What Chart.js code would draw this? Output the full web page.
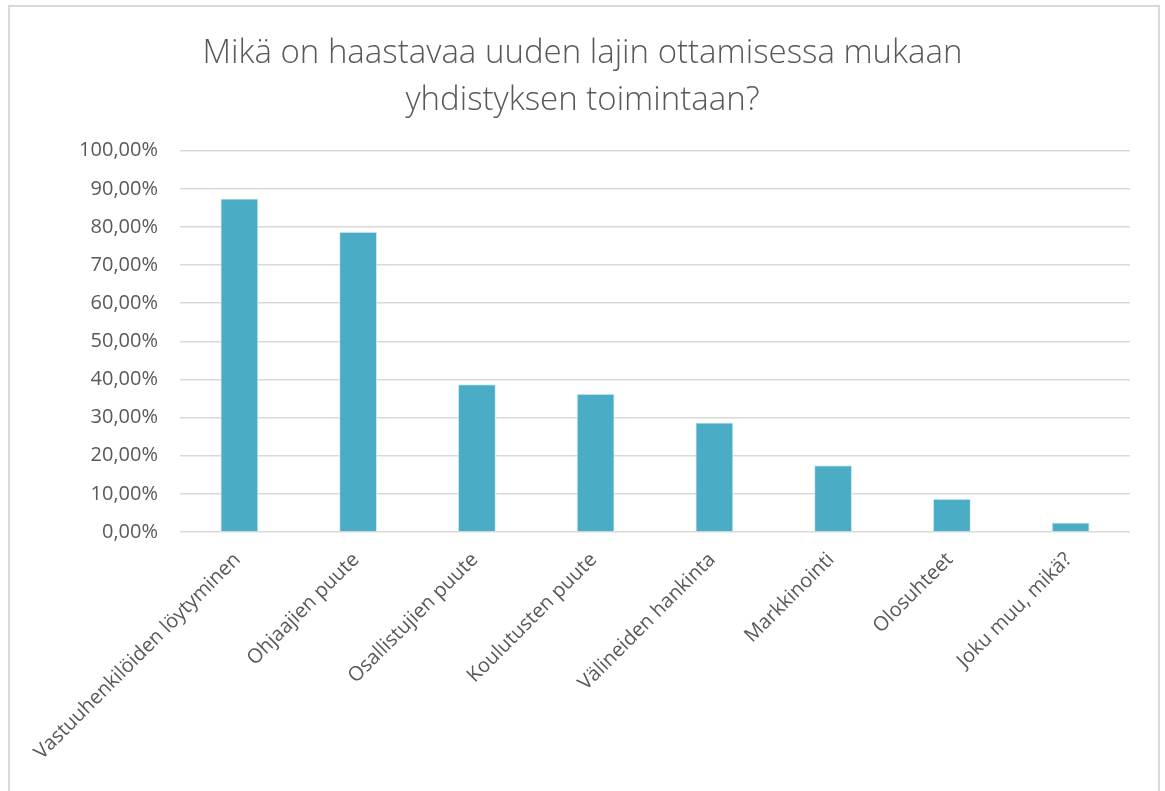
<!DOCTYPE html>
<html>
<head>
<meta charset="utf-8">
<script src="https://cdn.jsdelivr.net/npm/chart.js@4/dist/chart.umd.min.js"></script>
<style>
  html, body { margin: 0; padding: 0; background: #fff; }
  #frame {
    position: absolute; left: 8px; top: 5px; width: 1152px; height: 900px;
    border: 2px solid #d9d9d9; box-sizing: border-box;
  }
  #wrap { position: absolute; left: 0; top: 0; width: 1165px; height: 791px; }
</style>
</head>
<body>
<div id="frame"></div>
<div id="wrap"><canvas id="chart"></canvas></div>
<script>
// ------------------ DATA ------------------
const categories = [
  "Vastuuhenkilöiden löytyminen",
  "Ohjaajien puute",
  "Osallistujien puute",
  "Koulutusten puute",
  "Välineiden hankinta",
  "Markkinointi",
  "Olosuhteet",
  "Joku muu, mikä?"
];
const shares = [87.5, 78.75, 38.75, 36.25, 28.75, 17.5, 8.75, 2.5];
const titleLines = ["Mikä on haastavaa uuden lajin ottamisessa mukaan", "yhdistyksen toimintaan?"];

const textGray = "#595959";
const gridGray = "#d9d9d9";

// ------------------ CHART ------------------
const ctx = document.getElementById("chart").getContext("2d");
new Chart(ctx, {
  type: "bar",
  data: {
    labels: categories,
    datasets: [{
      data: shares,
      backgroundColor: "#4bacc6",
      borderColor: "#d6eef5",
      borderWidth: 1,
      categoryPercentage: 1,
      barPercentage: 0.32,
    }],
  },
  options: {
    responsive: true,
    maintainAspectRatio: false,
    animation: false,
    layout: { padding: { top: 0, right: 35, bottom: 0, left: 35 } },
    plugins: {
      legend: { display: false },
      tooltip: { enabled: false },
      title: {
        display: true,
        text: titleLines,
        color: textGray,
        font: { family: "'Open Sans'", size: 33, weight: 300, lineHeight: 1.42 },
        padding: { top: 30, bottom: 27 },
      },
    },
    scales: {
      x: {
        grid: { display: false },
        border: { display: false },
        ticks: {
          color: textGray,
          font: { family: "'Open Sans'", size: 20 },
          maxRotation: 45,
          minRotation: 45,
          autoSkip: false,
          padding: 8,
          labelOffset: -2,
        },
        afterFit: (scale) => { scale.height = 259; },
      },
      y: {
        min: 0,
        max: 100,
        border: { display: false },
        grid: { color: gridGray, lineWidth: 1.5, drawTicks: false },
        ticks: {
          stepSize: 10,
          color: textGray,
          font: { family: "'Open Sans'", size: 20 },
          padding: 22,
          callback: (v) => v.toFixed(2).replace(".", ",") + "%",
        },
        afterFit: (scale) => { scale.width = 145; },
      },
    },
  },
});
</script>
</body>
</html>
